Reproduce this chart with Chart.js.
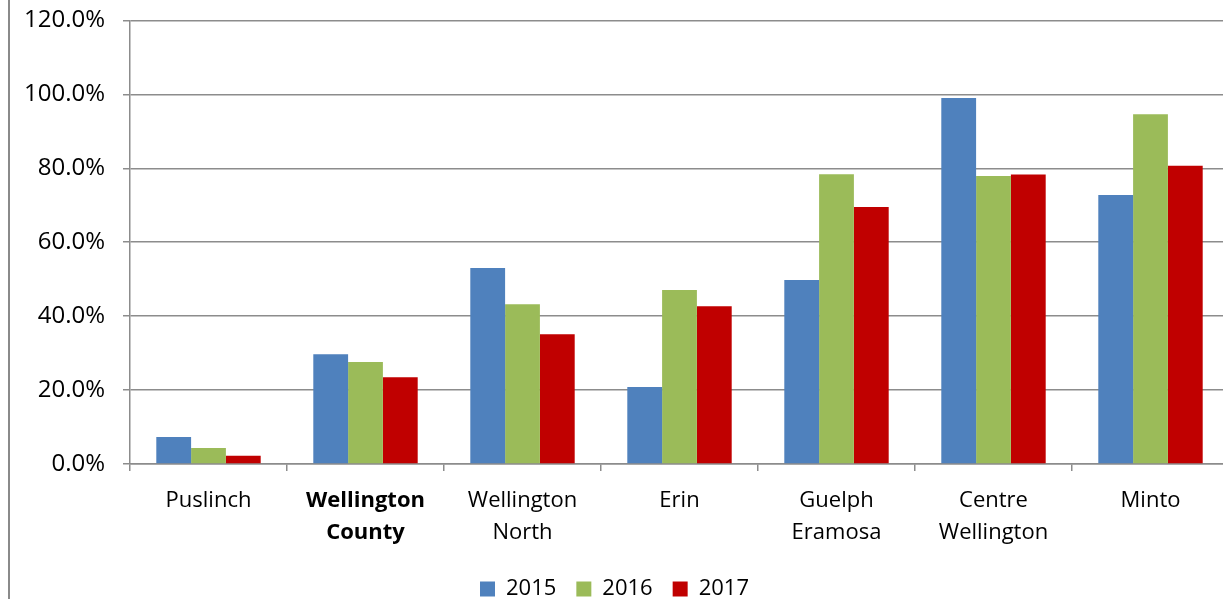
<!DOCTYPE html>
<html>
<head>
<meta charset="utf-8">
<script src="https://cdn.jsdelivr.net/npm/chart.js@4.4.1/dist/chart.umd.min.js"></script>
<style>
  html, body { margin: 0; padding: 0; background: #fff; overflow: hidden; }
  #wrap { position: relative; width: 1223px; height: 599px; overflow: hidden; }
  #frame { position: absolute; left: 8px; top: 0; width: 2px; height: 599px; background: #8a8a8a; }
  #box { position: absolute; left: 0; top: -12px; width: 1262px; height: 622px; }
</style>
</head>
<body>
<div id="wrap">
  <div id="box"><canvas id="rateChart"></canvas></div>
  <div id="frame"></div>
</div>
<script>
const categories = ['Puslinch', ['Wellington', 'County'], ['Wellington', 'North'], 'Erin', ['Guelph', 'Eramosa'], ['Centre', 'Wellington'], 'Minto']
const values2015 = [7.3, 29.7, 53.0, 20.8, 49.8, 99.0, 72.8]
const values2016 = [4.3, 27.6, 43.2, 47.1, 78.4, 77.9, 94.6]
const values2017 = [2.2, 23.5, 35.1, 42.7, 69.5, 78.3, 80.7]
const yTicks = [0, 20, 40, 60, 80, 100, 120]

const fontFamily = '"Open Sans", "Noto Sans", sans-serif'
const gridGray = '#8c8c8c'

const ctx = document.getElementById('rateChart').getContext('2d')

new Chart(ctx, {
  type: 'bar',
  data: {
    labels: categories,
    datasets: [
      { label: '2015', data: values2015, backgroundColor: '#4f81bd' },
      { label: '2016', data: values2016, backgroundColor: '#9bbb59' },
      { label: '2017', data: values2017, backgroundColor: '#c00000' }
    ]
  },
  options: {
    responsive: true,
    maintainAspectRatio: false,
    animation: false,
    datasets: {
      bar: { categoryPercentage: 0.665, barPercentage: 1.0 }
    },
    layout: { padding: { top: 0, right: 33, left: 0, bottom: 0 } },
    plugins: {
      legend: {
        position: 'bottom',
        labels: {
          boxWidth: 15,
          boxHeight: 15,
          padding: 20,
          color: '#000',
          font: { family: fontFamily, size: 22 }
        }
      },
      tooltip: { enabled: false }
    },
    scales: {
      x: {
        grid: {
          offset: true,
          drawOnChartArea: false,
          drawTicks: true,
          tickLength: 7,
          color: gridGray,
          lineWidth: 1.5
        },
        border: { color: gridGray, width: 1.5 },
        ticks: {
          color: '#000',
          padding: 14,
          maxRotation: 0,
          autoSkip: false,
          font: (c) => ({
            family: fontFamily,
            size: 22,
            lineHeight: 1.45,
            weight: c.index === 1 ? 'bold' : 'normal'
          })
        },
        afterFit: (scale) => { scale.height = 94 }
      },
      y: {
        min: 0,
        max: 120,
        afterBuildTicks: (scale) => { scale.ticks = yTicks.map(v => ({ value: v })) },
        afterFit: (scale) => { scale.width = 130 },
        grid: {
          color: gridGray,
          lineWidth: 1.5,
          tickLength: 7
        },
        border: { color: gridGray, width: 1.5 },
        ticks: {
          color: '#000',
          padding: 18,
          font: { family: fontFamily, size: 24 },
          callback: (v) => v.toFixed(1) + '%'
        }
      }
    }
  }
})
</script>
</body>
</html>
